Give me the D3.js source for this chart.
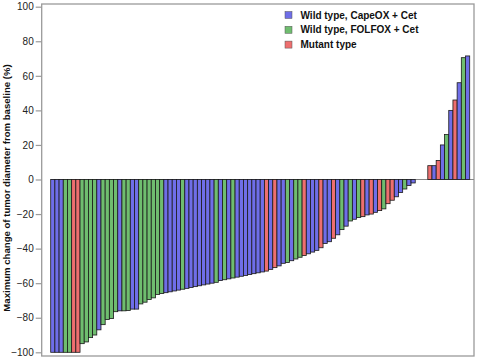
<!DOCTYPE html>
<html><head><meta charset="utf-8">
<script src="https://cdn.jsdelivr.net/npm/d3@7"></script>
<style>body{margin:0;background:#fff}svg{display:block}text{font-family:"Liberation Sans",Arial,sans-serif}</style>
</head><body>
<script>
const values = [-100,-100,-100,-100,-100,-100,-100,-95,-94,-91.5,-90,-87,-84,-81,-80.5,-76.5,-76,-76,-75.8,-75,
-75,-72,-71,-69.5,-68.5,-66.5,-66,-65.5,-65,-64.5,-64,-63.5,-63,-62.5,-62,-61.5,-61,-60.5,-60,-59.5,
-58.5,-58,-57.5,-57,-56.5,-56,-55.5,-55,-54.5,-54,-53.5,-53,-52,-51,-50,-48.5,-48,-47,-46,-45,
-44,-43,-42,-41,-39.5,-37,-36,-34,-32,-29,-27,-24,-23,-22,-21.5,-20.5,-20,-19,-18,-17,
-14,-12,-10,-7.5,-5.5,-3.5,-2,0,0,0,8,8,11,20,26,40,46,56,70.5,71.5];
const groups = "BBBGGRRGGGGBGGGGBGGBBGGGGGGBBBBGBBBBBBBGBGBGBBBBBBBRBRBBGBGGRBBBRBBRBGBGBGRBRBRGRRBBGBBBBBRBRBGBRBGB".split("");
const yTicks = [-100,-80,-60,-40,-20,0,20,40,60,80,100];
const legendLabels = ["Wild type, CapeOX + Cet","Wild type, FOLFOX + Cet","Mutant type"];
const legendKeys = ["B","G","R"];
const colors = {B:"#6f6ee8", G:"#6fbd6f", R:"#ee6f6f"};

const W=480,H=362;
const svg=d3.select("body").append("svg").attr("width",W).attr("height",H);
const x=d3.scaleBand().domain(d3.range(values.length)).range([50.7,469.7]).padding(0);
const y=d3.scaleLinear().domain([-100,100]).range([352.3,6.7]);

// frame
svg.append("rect").attr("x",41.7).attr("y",4).attr("width",474-41.7).attr("height",356-4)
  .attr("fill","none").attr("stroke","#9a9a9a").attr("stroke-width",1.3);

// zero line
svg.append("line").attr("x1",50.7).attr("x2",474).attr("y1",y(0)).attr("y2",y(0))
  .attr("stroke","#888").attr("stroke-width",1);

// bars
svg.append("g").selectAll("rect").data(values).join("rect")
  .attr("x",(d,i)=>x(i)).attr("width",x.bandwidth())
  .attr("y",d=>y(Math.max(0,d))).attr("height",d=>Math.abs(y(d)-y(0)))
  .attr("fill",(d,i)=>colors[groups[i]]).attr("stroke","#1a1a1a").attr("stroke-width",0.8);

// y axis
const ax=svg.append("g").attr("transform","translate(41.7,0)")
  .call(d3.axisLeft(y).tickValues(yTicks).tickSize(6).tickPadding(2).tickFormat(d3.format("d")));
ax.select(".domain").remove();
ax.selectAll(".tick line").attr("stroke","#9a9a9a").attr("stroke-width",1.2);
ax.selectAll(".tick text").attr("font-size",10).attr("fill","#222").style("font-family","'Liberation Sans',Arial,sans-serif");

// y title
svg.append("text").attr("transform","translate(10,188) rotate(-90)").attr("text-anchor","middle")
  .attr("font-size",9.6).attr("font-weight","bold").attr("fill","#111")
  .text("Maximum change of tumor diameter from baseline (%)");

// legend
const lg=svg.append("g");
legendKeys.forEach((k,i)=>{
  const yy=15+i*14.8;
  lg.append("rect").attr("x",285).attr("y",yy-3.5).attr("width",7).attr("height",7)
    .attr("fill",colors[k]).attr("stroke","#555").attr("stroke-width",0.5);
  lg.append("text").attr("x",300.5).attr("y",yy+3.6).attr("font-size",10).attr("font-weight","bold")
    .attr("fill","#111").text(legendLabels[i]);
});
</script>
</body></html>
